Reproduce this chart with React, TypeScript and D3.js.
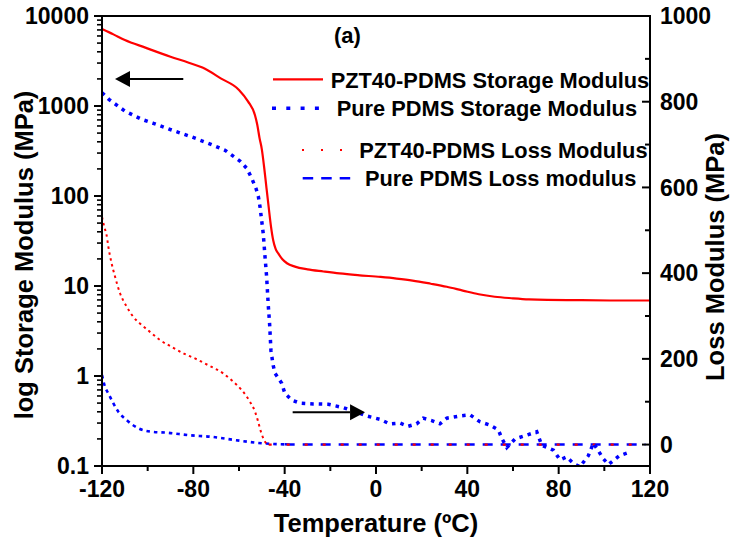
import React from "react";
import * as d3 from "d3";

const W = 731;
const H = 545;
const PL = 102, PR = 650, PT = 16, PB = 466;

// axis ticks
const xMajor = [-120, -80, -40, 0, 40, 80, 120];
const xMinor = [-100, -60, -20, 20, 60, 100];
const xLabels = ["-120", "-80", "-40", "0", "40", "80", "120"];
const yLeftMajor = [0.1, 1, 10, 100, 1000, 10000];
const yLeftLabels = ["0.1", "1", "10", "100", "1000", "10000"];
const yRightMajor = [0, 200, 400, 600, 800, 1000];
const yRightMinor = [100, 300, 500, 700, 900];

// PZT40-PDMS storage modulus (MPa, log axis)
const pztStorageT = [-120, -115, -110, -101, -90, -82, -76, -68, -60, -56, -53, -52, -51, -50, -49, -48, -47, -46, -45, -44, -42.8, -41, -39, -35.5, -30, -23, -16, -8, 2, 9, 16, 24, 31, 38, 45, 52, 60, 67, 75, 90, 105, 120];
const pztStorageV = [7170, 6250, 5410, 4450, 3530, 3030, 2670, 2030, 1510, 1120, 790, 620, 440, 330, 210, 125, 75, 46, 32, 26, 23, 19.8, 17.9, 16.4, 15.3, 14.5, 13.8, 13.2, 12.6, 12.1, 11.5, 10.6, 9.8, 8.9, 8.1, 7.6, 7.3, 7.1, 7.0, 6.95, 6.9, 6.9];

// Pure PDMS storage modulus (MPa, log axis)
const pdmsStorageT = [-120, -117, -110, -102.6, -97.5, -89.5, -80.7, -73.4, -66.1, -59.6, -56.6, -54.4, -52.5, -51.5, -50.8, -49.4, -48.6, -47.9, -47.2, -46.6, -46, -45, -44.2, -42.8, -41.3, -39.9, -36.9, -33.3, -27.5, -20.9, -14.3, -9, -4.1, 1.75, 6.1, 10.5, 14.1, 17.8, 20.7, 24.4, 28, 31, 36.8, 41.2, 45.5, 49.9, 53.6, 55.1, 57.3, 60.9, 66, 70.4, 72.6, 77.7, 80.6, 83.5, 86.4, 89.3, 93, 95.2, 99.6, 101.8, 106.6, 111.6];
const pdmsStorageV = [1406, 1186, 880, 711, 642, 541, 453, 385, 322, 245, 203, 157, 120, 98, 76, 38.6, 21, 12.7, 6.2, 3.8, 1.9, 1.3, 1.07, 0.95, 0.83, 0.64, 0.54, 0.5, 0.49, 0.485, 0.445, 0.4, 0.36, 0.33, 0.293, 0.3, 0.276, 0.294, 0.34, 0.32, 0.294, 0.34, 0.36, 0.37, 0.31, 0.285, 0.251, 0.203, 0.16, 0.2, 0.22, 0.24, 0.17, 0.15, 0.117, 0.126, 0.107, 0.098, 0.13, 0.18, 0.12, 0.104, 0.13, 0.144];

// PZT40-PDMS loss modulus (MPa, right axis)
const pztLossT = [-120, -119, -118, -117.2, -115.8, -114.3, -112.1, -109.2, -106.3, -102.6, -99, -94.6, -89.5, -83.6, -79.3, -73.4, -66.9, -63.2, -58.8, -55.2, -53, -51.8, -50.4, -48.6, -47, -40, -20, 0, 20, 40, 60, 80, 100, 118];
const pztLossV = [531, 508, 489, 461, 423, 392, 353, 322, 298, 279, 263, 244, 228, 211, 201, 185, 166, 150, 127, 100, 77, 57, 30, 6.5, 0, 0, 0, 0, 0, 0, 0, 0, 0, 0];

// Pure PDMS loss modulus (MPa, right axis)
const pdmsLossT = [-120, -118.7, -117.2, -115, -112.9, -109.2, -104.1, -98.2, -91, -82.2, -72, -61.7, -50, -40, -20, 0, 20, 40, 60, 80, 100, 118];
const pdmsLossV = [162, 135, 119, 96, 77, 57, 38, 30, 27.5, 22, 18, 10.5, 3, 0.5, 0, 0, 0, 0, 0, 0, 0, 0];

// annotation arrows in data coordinates [T start, T end, storage value]
const arrowLeft = [-84.4, -114.3, 1995];
const arrowRight = [-36.5, -4.8, 0.395];

const legendItems = [
  "PZT40-PDMS Storage Modulus",
  "Pure PDMS Storage Modulus",
  "PZT40-PDMS Loss Modulus",
  "Pure PDMS Loss modulus",
];

const FONT = "'Liberation Sans', Arial, Helvetica, sans-serif";

export default function App() {
  const x = d3.scaleLinear().domain([-120, 120]).range([PL, PR]);
  const yL = d3.scaleLog().domain([0.1, 10000]).range([PB, PT]);
  const yR = d3.scaleLinear().domain([-50, 1000]).range([PB, PT]);

  const zip = (a: number[], b: number[]) => a.map((t, i) => [t, b[i]] as [number, number]);

  const lineL = d3.line<[number, number]>().x((d) => x(d[0])).y((d) => yL(d[1])).curve(d3.curveMonotoneX);
  const lineR = d3.line<[number, number]>().x((d) => x(d[0])).y((d) => yR(d[1])).curve(d3.curveMonotoneX);
  const lineLin = d3.line<[number, number]>().x((d) => x(d[0])).y((d) => yL(d[1]));

  const pztS = zip(pztStorageT, pztStorageV);
  const pdmsS = zip(pdmsStorageT, pdmsStorageV);
  const pztL = zip(pztLossT, pztLossV);
  const pdmsL = zip(pdmsLossT, pdmsLossV);
  const pztLcurve = pztL.filter((d) => d[0] <= -47);
  const pztLflat = pztL.filter((d) => d[0] >= -47);
  const pdmsLcurve = pdmsL.filter((d) => d[0] <= -40);
  const pdmsLflat = pdmsL.filter((d) => d[0] >= -40);

  // log minor ticks
  const logMinor: number[] = [];
  for (let e = -1; e < 4; e++) for (let k = 2; k <= 9; k++) logMinor.push(k * Math.pow(10, e));

  const tickFont = 23;
  const ax = { stroke: "#000", strokeWidth: 2 };

  const arrow = (a: number[], key: string) => {
    const x0 = x(a[0]);
    const x1 = x(a[1]);
    const yy = yL(a[2]);
    const dir = Math.sign(x1 - x0);
    const hl = 15;
    const hw = 8;
    return (
      <g key={key}>
        <line x1={x0} y1={yy} x2={x1 - dir * hl} y2={yy} stroke="#000" strokeWidth={2} />
        <polygon points={`${x1},${yy} ${x1 - dir * hl},${yy - hw} ${x1 - dir * hl},${yy + hw}`} fill="#000" />
      </g>
    );
  };

  const legRows = [
    { ly: 79.3, tx: 330.7, ty: 87.5, x1: 273, x2: 323, stroke: "#ff0000", w: 2.2, dash: undefined },
    { ly: 108.3, tx: 336.7, ty: 115.5, x1: 272, x2: 320, stroke: "#0000ff", w: 3.5, dash: "4,10.3" },
    { ly: 150, tx: 359.3, ty: 158.3, x1: 302, x2: 342, stroke: "#ff0000", w: 2.2, dash: "2,17" },
    { ly: 178.3, tx: 365, ty: 186.3, x1: 302.7, x2: 351, stroke: "#0000ff", w: 2.5, dash: "10.5,8" },
  ];

  return (
    <svg
      width={W}
      height={H}
      viewBox={`0 0 ${W} ${H}`}
      style={{ position: "fixed", left: 0, top: 0, background: "#fff" }}
      fontFamily={FONT}
      fontWeight="bold"
    >
      <rect x={0} y={0} width={W} height={H} fill="#fff" />
      <defs>
        <clipPath id="plotClip">
          <rect x={PL} y={PT} width={PR - PL} height={PB - PT} />
        </clipPath>
      </defs>

      {/* data */}
      <g clipPath="url(#plotClip)" fill="none">
        <path d={lineR(pdmsLcurve) || ""} stroke="#0000ff" strokeWidth={2.6} strokeDasharray="3.5,4" />
        <path d={lineR(pdmsLflat) || ""} stroke="#0000ff" strokeWidth={2.5} strokeDasharray="10,8" />
        <path d={lineR(pztLcurve) || ""} stroke="#ff0000" strokeWidth={2} strokeDasharray="2.5,3.5" />
        <path d={lineR(pztLflat) || ""} stroke="#ff0000" strokeWidth={2.2} strokeDasharray="3,15" />
        <path d={lineLin(pdmsS) || ""} stroke="#0000ff" strokeWidth={3.5} strokeDasharray="3.5,5" />
        <path d={lineL(pztS) || ""} stroke="#ff0000" strokeWidth={2.2} />
      </g>

      {/* frame */}
      <line x1={PL} y1={PT} x2={PR} y2={PT} {...ax} />
      <line x1={PL} y1={PT - 1} x2={PL} y2={PB + 1} {...ax} />
      <line x1={PR} y1={PT - 1} x2={PR} y2={PB + 1} {...ax} />
      <line x1={PL - 1} y1={PB} x2={PR + 1} y2={PB} {...ax} />

      {/* bottom ticks */}
      {xMajor.map((t, i) => (
        <g key={"xm" + i}>
          <line x1={x(t)} x2={x(t)} y1={PB} y2={PB + 8} {...ax} />
          <text x={x(t)} y={497} textAnchor="middle" fontSize={tickFont}>
            {xLabels[i]}
          </text>
        </g>
      ))}
      {xMinor.map((t, i) => (
        <line key={"xn" + i} x1={x(t)} x2={x(t)} y1={PB} y2={PB + 5} {...ax} />
      ))}

      {/* left ticks */}
      {yLeftMajor.map((v, i) => (
        <g key={"yl" + i}>
          <line x1={PL - 8} x2={PL} y1={yL(v)} y2={yL(v)} {...ax} />
          <text x={89} y={yL(v) + 8.2} textAnchor="end" fontSize={tickFont}>
            {yLeftLabels[i]}
          </text>
        </g>
      ))}
      {logMinor.map((v, i) => (
        <line key={"yln" + i} x1={PL - 5} x2={PL} y1={yL(v)} y2={yL(v)} stroke="#000" strokeWidth={1.6} />
      ))}

      {/* right ticks (inward) */}
      {yRightMajor.map((v, i) => (
        <g key={"yr" + i}>
          <line x1={PR - 8} x2={PR} y1={yR(v)} y2={yR(v)} {...ax} />
          <text x={660} y={yR(v) + 8.2} textAnchor="start" fontSize={tickFont}>
            {String(v)}
          </text>
        </g>
      ))}
      {yRightMinor.map((v, i) => (
        <line key={"yrn" + i} x1={PR - 5} x2={PR} y1={yR(v)} y2={yR(v)} {...ax} />
      ))}

      {/* axis titles */}
      <text x={(PL + PR) / 2} y={532} textAnchor="middle" fontSize={25.5}>
        Temperature (ºC)
      </text>
      <text transform={`translate(33,255) rotate(-90)`} textAnchor="middle" fontSize={25.5}>
        log Storage Modulus (MPa)
      </text>
      <text transform={`translate(724,257) rotate(-90)`} textAnchor="middle" fontSize={25.5}>
        Loss Modulus (MPa)
      </text>

      {/* panel label */}
      <text x={334} y={43} fontSize={22}>
        (a)
      </text>

      {/* arrows */}
      {arrow(arrowLeft, "a1")}
      {arrow(arrowRight, "a2")}

      {/* legend */}
      {legRows.map((r, i) => (
        <g key={"lg" + i}>
          <line x1={r.x1} x2={r.x2} y1={r.ly} y2={r.ly} stroke={r.stroke} strokeWidth={r.w} strokeDasharray={r.dash} />
          <text x={r.tx} y={r.ty} fontSize={21.8}>
            {legendItems[i]}
          </text>
        </g>
      ))}
    </svg>
  );
}
